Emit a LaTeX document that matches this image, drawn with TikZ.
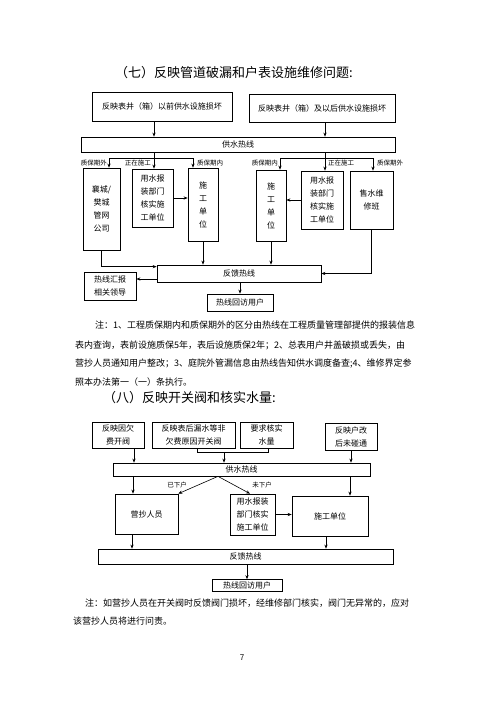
\documentclass[tikz,border=0pt]{standalone}
\usepackage{fontspec}
\newfontfamily\cjk{Noto Sans CJK SC}
\usetikzlibrary{arrows.meta}
\XeTeXlinebreaklocale "zh"
\XeTeXlinebreakskip=0pt plus 1pt
\tikzset{
  box/.style={draw, line width=0.7pt, inner sep=0pt, align=center, font=\cjk\fontsize{8}{13}\selectfont},
  arr/.style={-{Stealth[length=4pt,width=3.2pt]}, line width=0.6pt},
  ln/.style={line width=0.6pt},
  lbl/.style={font=\cjk\fontsize{6.5}{7}\selectfont, inner sep=0pt},
  note/.style={font=\cjk\fontsize{9}{9}\selectfont, inner sep=0pt, anchor=west},
  ttl/.style={font=\cjk\fontsize{13}{13}\selectfont, inner sep=0pt, anchor=west}
}
\begin{document}
\begin{tikzpicture}[x=1pt,y=-1pt]
\useasboundingbox[fill=white] (0,0) rectangle (500,705);

% ---------- Section 7 ----------
\node[ttl] (t7) at (115,73) {（七）反映管道破漏和户表设施维修问题:};

\node[box, minimum width=140pt, minimum height=29pt] (s1a) at (162,106.5) {反映表井（箱）以前供水设施损坏};
\node[box, minimum width=146pt, minimum height=28pt] (s1b) at (322,108) {反映表井（箱）及以后供水设施损坏};
\node[box, minimum width=314pt, minimum height=15pt] (hot1) at (238,144.5) {供水热线};

\node[box, minimum width=37pt, minimum height=82pt] (xc) at (101.5,209) {襄城/\\樊城\\管网\\公司};
\node[box, minimum width=41pt, minimum height=58pt] (yb1) at (152.5,198) {用水报\\装部门\\核实施\\工单位};
\node[box, minimum width=30pt, minimum height=73pt] (sg1) at (203,204.5) {施\\工\\单\\位};
\node[box, minimum width=30pt, minimum height=71pt] (sg2) at (271,205.5) {施\\工\\单\\位};
\node[box, minimum width=42pt, minimum height=58pt] (yb2) at (322,200) {用水报\\装部门\\核实施\\工单位};
\node[box, minimum width=43pt, minimum height=58pt] (ss) at (371.5,200) {售水维\\修班};

\node[box, minimum width=164pt, minimum height=17pt] (fk1) at (239,273.5) {反馈热线};
\node[box, minimum width=52pt, minimum height=28pt] (hb) at (110,286) {热线汇报\\相关领导};
\node[box, minimum width=66pt, minimum height=17pt] (hf1) at (240,302.5) {热线回访用户};

\coordinate (xa) at (154,0);
\coordinate (xb) at (325,0);
\coordinate (br1) at (0,158);
\coordinate (x109) at (109,0);
\coordinate (x193) at (193,0);
\coordinate (x280) at (280,0);
\coordinate (x373) at (373,0);

\draw[arr] (s1a.south -| xa) -- (hot1.north -| xa);
\draw[arr] (s1b.south -| xb) -- (hot1.north -| xb);

\draw[ln] (hot1.south -| xa) -- (xa |- br1);
\draw[ln] (x109 |- br1) -- (x193 |- br1);
\draw[arr] (x109 |- br1) -- (xc.north -| x109);
\draw[arr] (xa |- br1) -- (yb1.north -| xa);
\draw[arr] (x193 |- br1) -- (sg1.north -| x193);

\draw[ln] (hot1.south -| xb) -- (xb |- br1);
\draw[ln] (x280 |- br1) -- (x373 |- br1);
\draw[arr] (x280 |- br1) -- (sg2.north -| x280);
\draw[arr] (xb |- br1) -- (yb2.north -| xb);
\draw[arr] (x373 |- br1) -- (ss.north -| x373);

\node[lbl, anchor=east] (l1) at (107,163.5) {质保期外};
\node[lbl, anchor=east] (l2) at (151,163.5) {正在施工};
\node[lbl, anchor=west] (l3) at (197,163.5) {质保期内};
\node[lbl, anchor=east] (l4) at (278,163.5) {质保期内};
\node[lbl, anchor=west] (l5) at (328,163.5) {正在施工};
\node[lbl, anchor=west] (l6) at (377,163.5) {质保期外};

\draw[arr] (yb1.east) -- (yb1.east -| sg1.west);
\draw[arr] (yb2.west) -- (yb2.west -| sg2.east);

\draw[arr] (xc.south) |- ([yshift=-2pt]fk1.north west);
\draw[arr] (sg1.south) -- (sg1.south |- fk1.north);
\draw[arr] (sg2.south) -- (sg2.south |- fk1.north);
\draw[arr] (ss.south) |- (fk1.east);
\draw[arr] ([yshift=-5.5pt]fk1.west) -- ([yshift=-5.5pt]fk1.west -| hb.east);
\draw[arr] (fk1.south -| hf1.north) -- (hf1.north);

\node[note] (n1) at (95,325) {\makebox[325pt][s]{注：1、工程质保期内和质保期外的区分由热线在工程质量管理部提供的报装信息}};
\node[note] (n2) at (75,345) {\makebox[345pt][s]{表内查询，表前设施质保5年，表后设施质保2年；2、总表用户井盖破损或丢失，由}};
\node[note] (n3) at (75,364) {\makebox[345pt][s]{营抄人员通知用户整改；3、庭院外管漏信息由热线告知供水调度备查;4、维修界定参}};
\node[note] (n4) at (75,382) {照本办法第一（一）条执行。};

% ---------- Section 8 ----------
\node[ttl] (t8) at (103,398) {（八）反映开关阀和核实水量:};

\node[box, minimum width=52pt, minimum height=26pt] (t1) at (118,435) {反映因欠\\费开阀};
\node[box, minimum width=83pt, minimum height=26pt] (t2) at (193.5,435) {反映表后漏水等非\\欠费原因开关阀};
\node[box, minimum width=53pt, minimum height=26pt] (t3) at (266.5,435) {要求核实\\水量};
\node[box, minimum width=52pt, minimum height=27pt] (t4) at (351,436.5) {反映户改\\后未碰通};

\node[box, minimum width=257pt, minimum height=13pt] (hot2) at (241.5,469.5) {供水热线};

\node[box, minimum width=63pt, minimum height=40pt] (yc) at (146.5,514) {营抄人员};
\node[box, minimum width=45pt, minimum height=41pt] (yb3) at (252.5,514.5) {用水报装\\部门核实\\施工单位};
\node[box, minimum width=76pt, minimum height=40pt] (sg3) at (330,516) {施工单位};

\node[box, minimum width=295pt, minimum height=15pt] (fk2) at (245.5,556.5) {反馈热线};
\node[box, minimum width=70pt, minimum height=12pt] (hf2) at (247,585.5) {热线回访用户};

\coordinate (x134) at (134,0);
\coordinate (x351) at (351,0);
\coordinate (x197) at (197,0);
\coordinate (x268) at (268,0);
\coordinate (x224) at (224,0);
\coordinate (br2) at (0,452.5);
\coordinate (x133) at (133,0);
\coordinate (x350) at (350,0);
\coordinate (x218) at (218,0);
\coordinate (x250) at (250,0);
\coordinate (x132) at (132,0);
\coordinate (x326) at (326,0);

\draw[arr] (t1.south -| x134) -- (hot2.north -| x134);
\draw[arr] (t4.south -| x351) -- (hot2.north -| x351);
\draw[ln] (t2.south -| x197) |- (x224 |- br2) -| (t3.south -| x268);
\draw[arr] (x224 |- br2) -- (hot2.north -| x224);

\draw[arr] (hot2.south -| x133) -- (yc.north -| x133);
\draw[arr] (hot2.south -| x350) -- (sg3.north -| x350);
\draw[arr] (hot2.south -| x218) -- (yc.north east);
\draw[arr] (hot2.south -| x218) -- (yb3.north -| x250);
\node[lbl] (l7) at (177,485) {已下户};
\node[lbl] (l8) at (262,485) {未下户};

\draw[arr] (yb3.east) -- (yb3.east -| sg3.west);
\draw[arr] (yc.south -| x132) -- (fk2.north -| x132);
\draw[arr] (sg3.south -| x326) -- (fk2.north -| x326);
\draw[arr] (fk2.south -| hf2.north) -- (hf2.north);

\node[note] (n5) at (85,603) {\makebox[323pt][s]{注：如营抄人员在开关阀时反馈阀门损坏，经维修部门核实，阀门无异常的，应对}};
\node[note] (n6) at (73,621) {该营抄人员将进行问责。};

\node[font=\cjk\fontsize{8}{8}\selectfont, inner sep=0pt] (pg) at (242,658) {7};
\end{tikzpicture}
\end{document}
